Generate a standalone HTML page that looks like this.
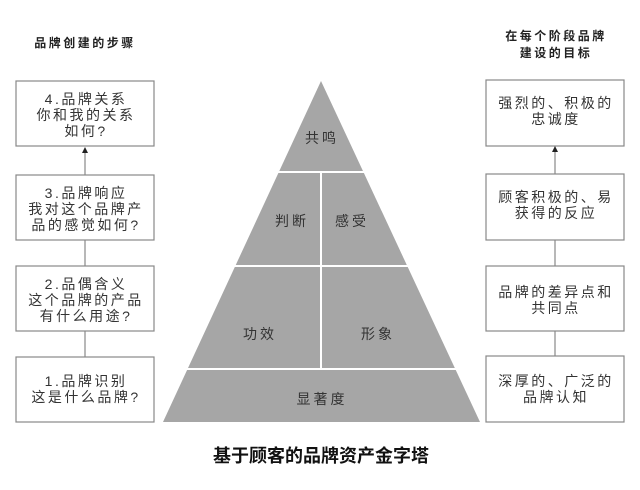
<!DOCTYPE html>
<html><head><meta charset="utf-8"><style>
body{margin:0;background:#fff;}
svg text{font-family:"Liberation Sans","Noto Sans CJK SC",sans-serif;}
</style></head><body>
<svg width="640" height="485" viewBox="0 0 640 485" xmlns="http://www.w3.org/2000/svg">
<rect width="640" height="485" fill="#fff"/>
<g font-size="12" font-weight="bold" fill="#222" letter-spacing="2.5">
<text x="85" y="47" text-anchor="middle">品牌创建的步骤</text>
<text x="556" y="40" text-anchor="middle">在每个阶段品牌</text>
<text x="556" y="57" text-anchor="middle">建设的目标</text>
</g>
<polygon points="321,81 163,422 480,422" fill="#a6a6a6"/>
<g stroke="#fff" stroke-width="2">
<line x1="270" y1="172" x2="372" y2="172"/>
<line x1="220" y1="266" x2="420" y2="266"/>
<line x1="170" y1="369" x2="470" y2="369"/>
<line x1="321" y1="172" x2="321" y2="369"/>
</g>
<g font-size="14" fill="#333" text-anchor="middle" letter-spacing="3">
<text x="322" y="143">共鸣</text>
<text x="292" y="226">判断</text>
<text x="352" y="226">感受</text>
<text x="260" y="339">功效</text>
<text x="378" y="339">形象</text>
<text x="322" y="404">显著度</text>
</g>
<g fill="#fff" stroke="#888" stroke-width="1.2">
<rect x="16" y="81" width="138" height="65"/>
<rect x="16" y="175" width="138" height="65"/>
<rect x="16" y="266" width="138" height="65"/>
<rect x="16" y="357" width="138" height="65"/>
<rect x="486" y="80" width="138" height="66"/>
<rect x="486" y="174" width="138" height="66"/>
<rect x="486" y="266" width="138" height="65"/>
<rect x="486" y="356" width="138" height="66"/>
</g>
<g stroke="#888" stroke-width="1.2">
<line x1="85" y1="152" x2="85" y2="175"/>
<line x1="85" y1="240" x2="85" y2="266"/>
<line x1="85" y1="331" x2="85" y2="357"/>
<line x1="555" y1="152" x2="555" y2="174"/>
<line x1="555" y1="240" x2="555" y2="266"/>
<line x1="555" y1="331" x2="555" y2="356"/>
</g>
<polygon points="85,147 82,153 88,153" fill="#222"/>
<polygon points="555,146 552,152 558,152" fill="#222"/>
<g font-size="14" fill="#333" text-anchor="middle" letter-spacing="2.5">
<text x="86" y="104">4.品牌关系</text>
<text x="86" y="120">你和我的关系</text>
<text x="86" y="136">如何?</text>
<text x="86" y="198">3.品牌响应</text>
<text x="86" y="214">我对这个品牌产</text>
<text x="86" y="230">品的感觉如何?</text>
<text x="86" y="289">2.品偶含义</text>
<text x="86" y="305">这个品牌的产品</text>
<text x="86" y="321">有什么用途?</text>
<text x="86" y="386">1.品牌识别</text>
<text x="86" y="402">这是什么品牌?</text>
<text x="556" y="108">强烈的、积极的</text>
<text x="556" y="124">忠诚度</text>
<text x="556" y="202">顾客积极的、易</text>
<text x="556" y="218">获得的反应</text>
<text x="556" y="297">品牌的差异点和</text>
<text x="556" y="313">共同点</text>
<text x="556" y="386">深厚的、广泛的</text>
<text x="556" y="402">品牌认知</text>
</g>
<text x="321" y="462" font-size="18" font-weight="bold" fill="#111" text-anchor="middle">基于顾客的品牌资产金字塔</text>
</svg>
</body></html>
